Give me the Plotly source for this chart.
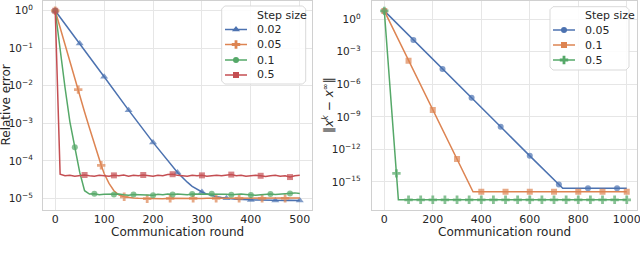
import plotly.graph_objects as go

# ---------------- Left panel: relative error vs communication round ----------
step_a = ["0.02", "0.05", "0.1", "0.5"]

blue_a_x = [0, 50, 100, 150, 200, 250, 260, 270, 280, 290, 300, 310, 320, 330, 340,
            350, 360, 370, 380, 390, 400, 410, 420, 430, 440, 450, 460, 470, 480, 490, 500]
blue_a_y = [1.0, 0.135, 1.74e-2, 2.24e-3, 3.1e-4, 4.9e-5, 3.6e-5, 2.7e-5, 2.1e-5, 1.75e-5,
            1.48e-5, 1.3e-5, 1.18e-5, 1.1e-5, 1.05e-5, 1.0e-5, 0.97e-5, 0.95e-5, 0.93e-5,
            0.92e-5, 0.9e-5, 0.91e-5, 0.9e-5, 0.89e-5, 0.9e-5, 0.88e-5, 0.89e-5, 0.88e-5,
            0.89e-5, 0.88e-5, 0.88e-5]
blue_a_marks = [0, 50, 100, 150, 200, 250, 300, 350, 400, 450, 500]

orange_a_x = [0, 10, 20, 30, 40, 47, 60, 70, 80, 94, 100, 110, 120, 130, 141, 150, 160, 170,
              188, 200, 210, 220, 235, 250, 260, 270, 282, 300, 310, 329, 340, 350, 360, 376,
              390, 400, 410, 423, 440, 450, 460, 470, 480, 490, 500]
orange_a_y = [1.0, 0.35, 0.12, 0.045, 0.016, 7.9e-3, 2.0e-3, 7.5e-4, 2.8e-4, 7.6e-5, 4.6e-5,
              2.5e-5, 1.6e-5, 1.25e-5, 1.1e-5, 1.05e-5, 1.02e-5, 1.0e-5, 0.98e-5, 0.96e-5,
              0.97e-5, 0.98e-5, 1.0e-5, 0.99e-5, 1.0e-5, 1.01e-5, 1.0e-5, 0.99e-5, 1.0e-5,
              1.0e-5, 0.99e-5, 1.0e-5, 1.01e-5, 1.0e-5, 1.0e-5, 1.01e-5, 1.0e-5, 1.0e-5,
              0.99e-5, 1.0e-5, 1.01e-5, 1.0e-5, 1.0e-5, 1.02e-5, 1.03e-5]
orange_a_marks = [0, 47, 94, 141, 188, 235, 282, 329, 376, 423, 470]

green_a_x = [0, 10, 20, 30, 40, 50, 60] + list(range(70, 510, 10))
green_a_y = [1.0, 8e-2, 9e-3, 1.1e-3, 2.3e-4, 5e-5, 1.6e-5,
             1.3e-5, 1.32e-5, 1.25e-5, 1.28e-5, 1.3e-5, 1.27e-5, 1.3e-5, 1.25e-5, 1.22e-5,
             1.27e-5, 1.25e-5, 1.27e-5, 1.25e-5, 1.22e-5, 1.28e-5, 1.25e-5, 1.3e-5, 1.27e-5,
             1.3e-5, 1.28e-5, 1.25e-5, 1.3e-5, 1.3e-5, 1.27e-5, 1.3e-5, 1.32e-5, 1.33e-5,
             1.3e-5, 1.28e-5, 1.25e-5, 1.28e-5, 1.3e-5, 1.27e-5, 1.23e-5, 1.22e-5, 1.25e-5,
             1.28e-5, 1.3e-5, 1.27e-5, 1.3e-5, 1.32e-5, 1.35e-5, 1.4e-5, 1.35e-5, 1.3e-5]
green_a_marks = [0, 40, 80, 120, 160, 200, 240, 280, 320, 360, 400, 440, 480]

red_a_x = list(range(0, 510, 10))
red_a_y = [1.0, 4.4e-5, 4.0e-5, 4.1e-5, 3.9e-5, 4.0e-5, 4.2e-5, 4.0e-5, 3.9e-5, 4.1e-5,
           4.0e-5, 3.9e-5, 4.1e-5, 4.0e-5, 4.2e-5, 3.9e-5, 4.1e-5, 4.0e-5, 4.2e-5, 4.0e-5,
           3.9e-5, 4.1e-5, 4.0e-5, 4.3e-5, 4.4e-5, 4.1e-5, 4.0e-5, 3.9e-5, 4.1e-5, 4.0e-5,
           4.1e-5, 3.9e-5, 4.0e-5, 4.1e-5, 4.0e-5, 4.2e-5, 4.3e-5, 4.0e-5, 4.1e-5, 3.9e-5,
           4.0e-5, 4.1e-5, 4.0e-5, 3.8e-5, 4.0e-5, 4.1e-5, 3.9e-5, 4.0e-5, 3.7e-5, 4.0e-5,
           4.1e-5]
red_a_marks = [0, 60, 120, 180, 240, 300, 360, 420, 480]

# ---------------- Right panel: iterate error ----------------------------------
step_b = ["0.05", "0.1", "0.5"]

blue_b_x = [0, 120, 240, 360, 480, 600, 720, 736, 840, 960, 1000]
blue_b_y = [6.0, 1.2e-2, 2.6e-5, 5.8e-8, 1.2e-10, 2.5e-13, 5.8e-16, 2.5e-16, 2.5e-16,
            2.5e-16, 2.5e-16]
blue_b_marks = [0, 120, 240, 360, 480, 600, 720, 840, 960]

orange_b_x = [0, 100, 200, 300, 366, 400, 500, 600, 700, 800, 900, 1000]
orange_b_y = [6.0, 1.5e-4, 4.3e-9, 1.3e-13, 1.2e-16, 1.2e-16, 1.2e-16, 1.2e-16, 1.2e-16,
              1.2e-16, 1.2e-16, 1.2e-16]
orange_b_marks = [0, 100, 200, 300, 400, 500, 600, 700, 800, 900, 1000]

green_b_x = [0, 50, 58] + list(range(100, 1050, 50))
green_b_y = [6.0, 6e-15, 2.2e-17] + [2.2e-17] * 19
green_b_marks = list(range(0, 1050, 50))

# ---------------- ticks & titles --------------------------------------------------
ytick_a_vals = [1, 1e-1, 1e-2, 1e-3, 1e-4, 1e-5]
ytick_a_text = ["10<sup>0</sup>", "10<sup>−1</sup>", "10<sup>−2</sup>", "10<sup>−3</sup>",
                "10<sup>−4</sup>", "10<sup>−5</sup>"]
ytick_b_vals = [1, 1e-3, 1e-6, 1e-9, 1e-12, 1e-15]
ytick_b_text = ["10<sup>0</sup>", "10<sup>−3</sup>", "10<sup>−6</sup>", "10<sup>−9</sup>",
                "10<sup>−12</sup>", "10<sup>−15</sup>"]
xtick_a = [0, 100, 200, 300, 400, 500]
xtick_b = [0, 200, 400, 600, 800, 1000]
xtitle = "Communication round"
ytitle_a = "Relative error"
ytitle_b = "‖<i>x</i><sup><i>k</i></sup> − <i>x</i><sup>∞</sup>‖"

# ---------------- style ---------------------------------------------------------
BLUE, ORANGE, GREEN, RED = "#4C72B0", "#DD8452", "#55A868", "#C44E52"
FONT = "DejaVu Sans"
TXT = "#262626"
W, H = 640.0, 254.0

fig = go.Figure()


def add_series(x, y, marks, color, symbol, msize, xa, ya):
    sizes = [msize if xi in marks else 0 for xi in x]
    fig.add_trace(go.Scatter(x=x, y=y, mode="lines+markers", xaxis=xa, yaxis=ya,
                             line=dict(color=color, width=1.5),
                             marker=dict(color=color, symbol=symbol, size=sizes,
                                         line=dict(width=0)),
                             showlegend=False, hoverinfo="skip"))


series_a = [
    (blue_a_x, blue_a_y, blue_a_marks, BLUE, "triangle-up", 7),
    (orange_a_x, orange_a_y, orange_a_marks, ORANGE, "cross", 7),
    (green_a_x, green_a_y, green_a_marks, GREEN, "circle", 6),
    (red_a_x, red_a_y, red_a_marks, RED, "square", 6),
]
series_b = [
    (blue_b_x, blue_b_y, blue_b_marks, BLUE, "circle", 6),
    (orange_b_x, orange_b_y, orange_b_marks, ORANGE, "square", 6),
    (green_b_x, green_b_y, green_b_marks, GREEN, "cross", 7),
]
for s in series_a:
    add_series(*s, "x", "y")
for s in series_b:
    add_series(*s, "x2", "y2")

# ---------------- hand-built legends (pixel overlay axis) ----------------------
annotations = []


def rounded_box(x0, y0, x1, y1, r=3):
    pts = [(x0 + r, y0), (x1 - r, y0), (x1, y0 + r), (x1, y1 - r),
           (x1 - r, y1), (x0 + r, y1), (x0, y1 - r), (x0, y0 + r), (x0 + r, y0)]
    return [p[0] for p in pts], [p[1] for p in pts]


def add_legend(box, line_x, text_x, title_y, rows_y, labels, series):
    bx, by = rounded_box(*box)
    fig.add_trace(go.Scatter(x=bx, y=by, mode="lines", fill="toself",
                             fillcolor="rgba(255,255,255,0.85)",
                             line=dict(color="#d9d9d9", width=1),
                             xaxis="x3", yaxis="y3", showlegend=False, hoverinfo="skip"))
    annotations.append(dict(text="Step size", x=text_x / W, y=1 - title_y / H,
                            xref="paper", yref="paper", xanchor="left", yanchor="middle",
                            showarrow=False, font=dict(family=FONT, size=11, color=TXT)))
    for lab, ry, s in zip(labels, rows_y, series):
        color, symbol, msize = s[3], s[4], s[5]
        fig.add_trace(go.Scatter(x=[line_x[0], line_x[1]], y=[ry, ry], mode="lines",
                                 line=dict(color=color, width=1.5),
                                 xaxis="x3", yaxis="y3", showlegend=False, hoverinfo="skip"))
        fig.add_trace(go.Scatter(x=[(line_x[0] + line_x[1]) / 2], y=[ry], mode="markers",
                                 marker=dict(color=color, symbol=symbol, size=msize,
                                             line=dict(width=0)),
                                 xaxis="x3", yaxis="y3", showlegend=False, hoverinfo="skip"))
        annotations.append(dict(text=lab, x=text_x / W, y=1 - ry / H,
                                xref="paper", yref="paper", xanchor="left",
                                yanchor="middle", showarrow=False,
                                font=dict(family=FONT, size=11, color=TXT)))


add_legend((221.7, 6, 305.7, 84), (225, 247), 255, 15, [29.5, 44.5, 60, 75], step_a, series_a)
add_legend((550, 6.7, 629, 70), (553, 575), 582.5, 15.5, [30, 45, 60], step_b, series_b)

# axis titles as annotations (precise placement)
title_font = dict(family=FONT, size=12, color=TXT)
for cx, txt in [((43 + 312) / 2, xtitle), ((371.7 + 636.7) / 2, xtitle)]:
    annotations.append(dict(text=txt, x=cx / W, y=1 - 232 / H, xref="paper", yref="paper",
                            xanchor="center", yanchor="middle", showarrow=False,
                            font=title_font))
for cx, txt in [(6, ytitle_a), (328.5, ytitle_b)]:
    annotations.append(dict(text=txt, x=cx / W, y=1 - 105.5 / H, xref="paper", yref="paper",
                            xanchor="center", yanchor="middle", textangle=-90,
                            showarrow=False, font=title_font))

axis_common = dict(showline=True, mirror=True, linecolor="#d0d0d0", linewidth=1,
                   gridcolor="#e6e6e6", gridwidth=1, zeroline=False, ticks="",
                   automargin=False)
xtick_font = dict(family=FONT, size=11, color=TXT)
ytick_font = dict(family=FONT, size=10.5, color=TXT)

fig.update_layout(
    width=640, height=254,
    margin=dict(l=0, r=0, t=0, b=0),
    paper_bgcolor="white", plot_bgcolor="rgba(0,0,0,0)",
    font=dict(family=FONT, color=TXT, size=11),
    showlegend=False,
    xaxis=dict(domain=[43 / W, 312 / W], range=[-25, 525], tickvals=xtick_a,
               tickfont=xtick_font, ticklabelstandoff=-1, ticklabeloverflow="allow",
               anchor="y", **axis_common),
    yaxis=dict(domain=[1 - 210 / H, 1 - 1 / H], type="log", range=[-5.31, 0.26],
               tickvals=ytick_a_vals, ticktext=ytick_a_text, tickfont=ytick_font,
               ticklabelstandoff=7, anchor="x", **axis_common),
    xaxis2=dict(domain=[371.7 / W, 636.7 / W], range=[-52, 1041], tickvals=xtick_b,
                tickfont=xtick_font, ticklabelstandoff=-1, ticklabeloverflow="allow",
                anchor="y2", **axis_common),
    yaxis2=dict(domain=[1 - 210 / H, 1 - 1 / H], type="log", range=[-17.6, 1.69],
                tickvals=ytick_b_vals, ticktext=ytick_b_text, tickfont=ytick_font,
                ticklabelstandoff=8, anchor="x2", **axis_common),
    xaxis3=dict(domain=[0, 1], range=[0, W], visible=False, fixedrange=True, anchor="y3"),
    yaxis3=dict(domain=[0, 1], range=[H, 0], visible=False, fixedrange=True, anchor="x3"),
    annotations=annotations,
)

fig.write_html("out.html", config={"displayModeBar": False},
               post_script="document.body.style.margin='0';")
